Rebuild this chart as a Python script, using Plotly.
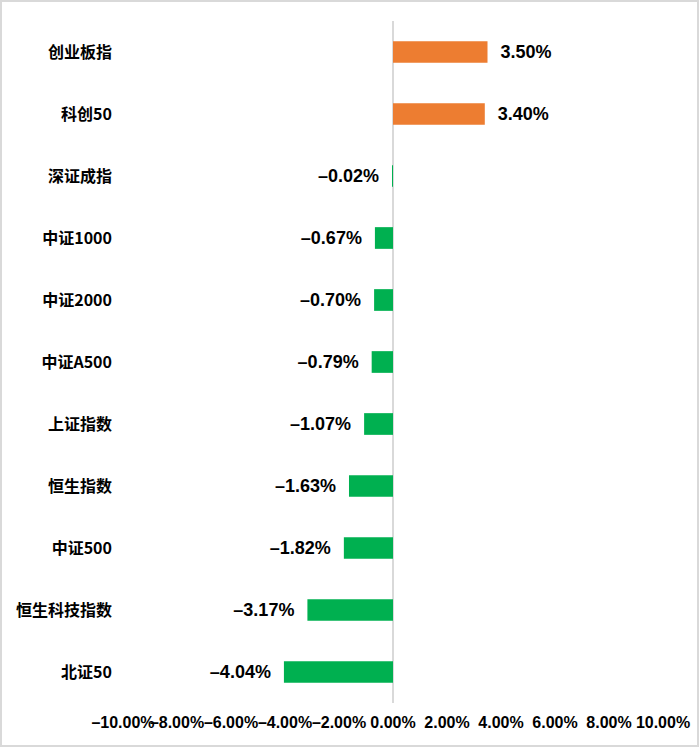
import plotly.graph_objects as go

# 指数涨跌幅 (%)
categories = ["创业板指", "科创50", "深证成指", "中证1000", "中证2000", "中证A500",
              "上证指数", "恒生指数", "中证500", "恒生科技指数", "北证50"]
changes = [3.50, 3.40, -0.02, -0.67, -0.70, -0.79, -1.07, -1.63, -1.82, -3.17, -4.04]

tick_vals = [-10, -8, -6, -4, -2, 0, 2, 4, 6, 8, 10]
tick_text = ["–10.00%", "–8.00%", "–6.00%", "–4.00%", "–2.00%", "0.00%",
             "2.00%", "4.00%", "6.00%", "8.00%", "10.00%"]

ORANGE = "#ED7D31"
GREEN = "#00B050"

colors = [ORANGE if v >= 0 else GREEN for v in changes]
labels = []
for v in changes:
    s = f"{abs(v):.2f}%"
    if v < 0:
        labels.append("–" + s + "  ")
    else:
        labels.append("  " + s)

fig = go.Figure(go.Bar(
    x=changes,
    y=categories,
    orientation="h",
    marker=dict(color=colors, line=dict(width=0)),
    width=0.35,
    text=labels,
    textposition="outside",
    constraintext="none",
    cliponaxis=False,
    textfont=dict(size=18, color="#000000", family="Liberation Sans, Arial", weight="bold"),
))

fig.update_layout(
    width=700,
    height=748,
    margin=dict(l=123, r=37, t=21, b=45),
    paper_bgcolor="white",
    plot_bgcolor="white",
    showlegend=False,
    font=dict(family="Liberation Sans, Noto Sans CJK SC", color="#000000", weight="bold"),
    xaxis=dict(
        range=[-10, 10],
        tickvals=tick_vals,
        ticktext=tick_text,
        tickangle=0,
        tickfont=dict(size=16, weight="bold"),
        showgrid=False,
        showline=False,
        ticks="",
        zeroline=True,
        zerolinecolor="#D9D9D9",
        zerolinewidth=2,
        ticklabelstandoff=8,
        automargin=False,
    ),
    yaxis=dict(
        autorange="reversed",
        tickfont=dict(size=16, family="Noto Sans CJK SC, Liberation Sans", weight="bold"),
        showgrid=False,
        showline=False,
        ticks="",
        ticklabelstandoff=10,
        automargin=False,
    ),
    shapes=[dict(
        type="rect", xref="paper", yref="paper",
        x0=-122 / 540, x1=575 / 540, y0=-43 / 682, y1=702 / 682,
        line=dict(color="#D9D9D9", width=2), fillcolor="rgba(0,0,0,0)",
        layer="below",
    )],
)

# page body has a default 8px margin; drop it so the figure sits at the corner
fig.write_html("out.html", config={"displayModeBar": False},
               post_script="document.body.style.margin='0';")
